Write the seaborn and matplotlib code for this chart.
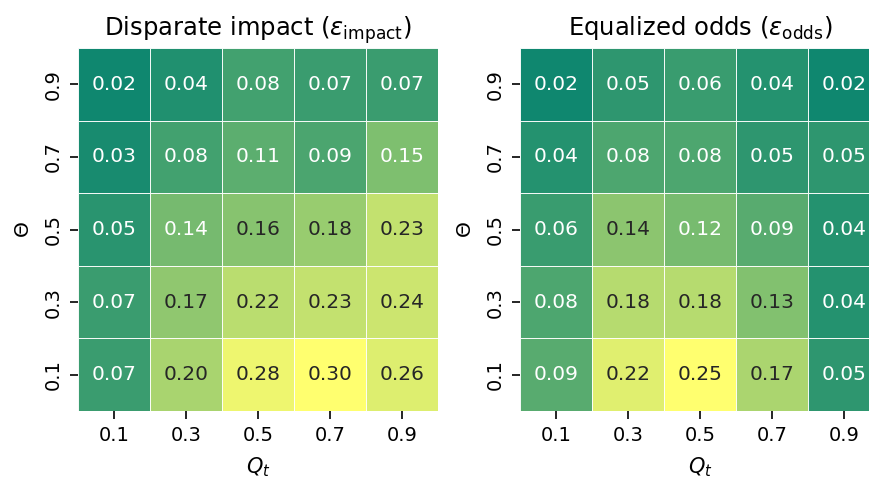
import numpy as np
import pandas as pd
import matplotlib
matplotlib.use("Agg")
import matplotlib.pyplot as plt
import seaborn as sns

# Grid levels
q_t = ["0.1", "0.3", "0.5", "0.7", "0.9"]
theta = ["0.9", "0.7", "0.5", "0.3", "0.1"]

# Rows ordered top (Θ=0.9) to bottom (Θ=0.1)
impact = [
    [0.02, 0.04, 0.08, 0.07, 0.07],
    [0.03, 0.08, 0.11, 0.09, 0.15],
    [0.05, 0.14, 0.16, 0.18, 0.23],
    [0.07, 0.17, 0.22, 0.23, 0.24],
    [0.07, 0.20, 0.28, 0.30, 0.26],
]
odds = [
    [0.02, 0.05, 0.06, 0.04, 0.02],
    [0.04, 0.08, 0.08, 0.05, 0.05],
    [0.06, 0.14, 0.12, 0.09, 0.04],
    [0.08, 0.18, 0.18, 0.13, 0.04],
    [0.09, 0.22, 0.25, 0.17, 0.05],
]

sns.set_style("ticks")
plt.rcParams["font.family"] = ["DejaVu Sans"]
plt.rcParams["text.color"] = "black"
plt.rcParams["axes.labelcolor"] = "black"
plt.rcParams["xtick.color"] = "black"
plt.rcParams["ytick.color"] = "black"

fig = plt.figure(figsize=(8.7, 4.79), dpi=100)
W, H = 870, 479
ax1 = fig.add_axes([78 / W, 1 - 411 / H, 360 / W, 363 / H])
ax2 = fig.add_axes([520 / W, 1 - 411 / H, 360 / W, 363 / H])

panels = [
    (ax1, impact, r"Disparate impact ($\varepsilon_{\mathrm{impact}}$)"),
    (ax2, odds, r"Equalized odds ($\varepsilon_{\mathrm{odds}}$)"),
]
for ax, vals, title in panels:
    df = pd.DataFrame(vals, index=theta, columns=q_t)
    sns.heatmap(df, ax=ax, cmap="summer", annot=True, fmt=".2f",
                linewidths=0.7, linecolor="white", cbar=False, alpha=0.94,
                annot_kws={"fontsize": 14.5})
    ax.set_title(title, fontsize=17.5, pad=9)
    ax.set_xlabel(r"$Q_t$", fontsize=15, labelpad=7)
    ax.set_ylabel(r"$\Theta$", fontsize=14.5, labelpad=8)
    ax.tick_params(axis="both", labelsize=14, length=6, width=1.2, pad=5)
    ax.set_yticklabels(theta, rotation=90, va="center")
    ax.set_xticklabels(q_t, rotation=0)

fig.savefig("out.png", dpi=100)
